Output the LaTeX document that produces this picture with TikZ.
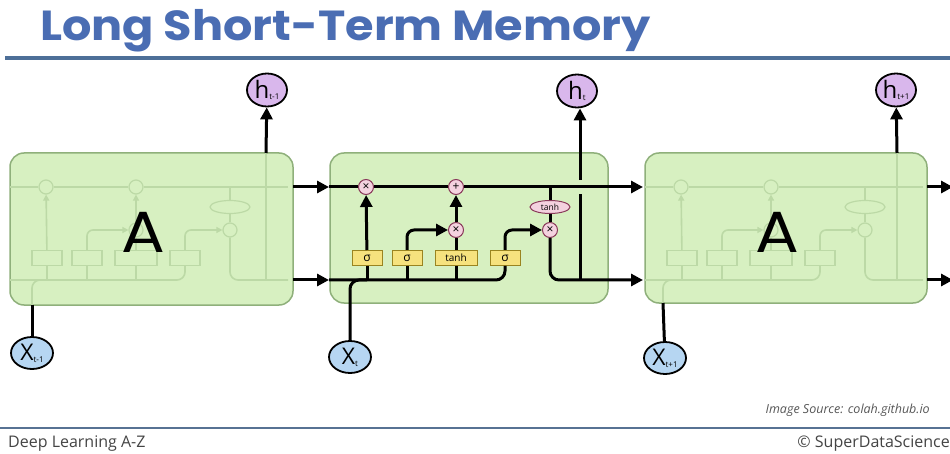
\documentclass[tikz,border=0pt]{standalone}
\usepackage{fontspec}
\setmainfont{Open Sans}
\newfontfamily\titlefont{Poppins}
\usetikzlibrary{arrows.meta,shapes.geometric,calc}
\definecolor{titleblue}{HTML}{4A6DB3}
\definecolor{rulebl}{HTML}{4D6F98}
\definecolor{cellfill}{HTML}{D7F0C1}
\definecolor{celldraw}{HTML}{8FB07B}
\definecolor{faintc}{HTML}{BCD9A6}
\definecolor{hfill}{HTML}{D9B7EC}
\definecolor{xfill}{HTML}{B6D6F2}
\definecolor{opfill}{HTML}{F4D2DF}
\definecolor{opdraw}{HTML}{8A3A5A}
\definecolor{gatefill}{HTML}{F6E27E}
\definecolor{gatedraw}{HTML}{9A8420}
\definecolor{foot}{HTML}{444444}
\tikzset{
  cellbox/.style={draw=celldraw, line width=1.5pt, fill=cellfill, rounded corners=14pt, inner sep=0pt},
  ln/.style={line width=3pt, black},
  arr/.style={line width=3pt, black, -{Triangle[length=12pt,width=12pt]}},
  hnode/.style={ellipse, draw=black, line width=1.8pt, fill=hfill, minimum width=40pt, minimum height=33pt, inner sep=0pt},
  xnode/.style={ellipse, draw=black, line width=1.8pt, fill=xfill, minimum width=42pt, minimum height=32pt, inner sep=0pt},
  opnode/.style={circle, draw=opdraw, line width=1pt, fill=opfill, minimum size=15pt, inner sep=0pt, font=\fontsize{12}{12}\selectfont},
  gatebox/.style={rectangle, draw=gatedraw, line width=1pt, fill=gatefill, minimum width=30pt, minimum height=15pt, inner sep=1pt, font=\fontsize{12}{12}\selectfont},
  tanhell/.style={ellipse, draw=opdraw, line width=1pt, fill=opfill, minimum width=40pt, minimum height=13pt, inner sep=0pt, font=\fontsize{8.5}{8.5}\selectfont},
  faintln/.style={line width=1.6pt, faintc},
  faintarr/.style={line width=1.6pt, faintc, -{Triangle[length=6pt,width=6pt]}},
  faintop/.style={circle, draw=faintc, line width=1.2pt, minimum size=14pt, inner sep=0pt},
  faintgate/.style={rectangle, draw=faintc, line width=1.2pt, minimum width=30pt, minimum height=15pt, inner sep=0pt},
  fainttanh/.style={ellipse, draw=faintc, line width=1.2pt, minimum width=40pt, minimum height=13pt, inner sep=0pt},
  biglabel/.style={font=\titlefont\fontsize{58}{58}\selectfont, text=black}
}
% faint copy of the cell internals, shifted by #1 (pt), names prefixed by #2
\newcommand{\faintcell}[2]{%
\begin{scope}[xshift=#1]
  \coordinate (#2cin) at (330,187);
  \coordinate (#2cout) at (608,187);
  \coordinate (#2bin) at (330,280);
  \coordinate (#2bout) at (608,280);
  \node[faintop] (#2fx) at (366,187) {};
  \node[faintop] (#2ad) at (456,187) {};
  \node[faintop] (#2ix) at (456,230) {};
  \node[faintop] (#2ox) at (550,230) {};
  \node[fainttanh] (#2th) at (550,207) {};
  \node[faintgate] (#2s1) at (367,258) {};
  \node[faintgate] (#2s2) at (407,258) {};
  \node[faintgate, minimum width=42pt] (#2t1) at (456,258) {};
  \node[faintgate] (#2s3) at (505,258) {};
  \draw[faintln] (#2cin) -- (#2fx) -- (#2ad) -- (#2cout);
  \draw[faintarr] (#2s1) -- (#2fx);
  \draw[faintarr, rounded corners=6pt] (#2s2.north) |- (#2ix);
  \draw[faintln] (#2t1) -- (#2ix);
  \draw[faintarr] (#2ix) -- (#2ad);
  \draw[faintarr, rounded corners=6pt] (#2s3.north) |- (#2ox);
  \draw[faintln] (#2ox) -- (#2th) -- (#2th |- #2cin);
  \draw[faintln, rounded corners=8pt] (#2ox) |- (#2bout);
  \draw[faintln, rounded corners=8pt] (#2bin) -| (#2s3.south);
  \draw[faintln] (#2s1.south) -- (#2s1.south |- #2bin);
  \draw[faintln] (#2s2.south) -- (#2s2.south |- #2bin);
  \draw[faintln] (#2t1.south) -- (#2t1.south |- #2bin);
\end{scope}}
\begin{document}
\begin{tikzpicture}[x=1pt,y=-1pt]
\useasboundingbox (0,0) rectangle (950,454);
\fill[white] (0,0) rectangle (950,454);

% header
\node[anchor=base west, inner sep=0pt, text=titleblue, font=\titlefont\bfseries\fontsize{42}{42}\selectfont] (title) at (40,41) {\scalebox{1.1}[1]{Long Short-Term Memory}};
\draw[rulebl, line width=3.5pt] (5,58) -- (950,58);

% cell boxes
\node[cellbox, minimum width=283pt, minimum height=152pt] (A1) at (151.5,229) {};
\node[cellbox, minimum width=278pt, minimum height=150pt] (A2) at (469,228) {};
\node[cellbox, minimum width=282pt, minimum height=150pt] (A3) at (786,228) {};

% faint internals of the left and right cells
\faintcell{-320}{L}
\faintcell{315}{R}
\draw[faintln] (266,153) -- (266,280);
\draw[faintln, rounded corners=8pt] (32,305) |- (60,280);
\draw[faintln] (10,280) -- (60,280);
\draw[faintln] (897,153) -- (897,280);
\draw[faintln, rounded corners=8pt] (663,303) |- (690,280);
\draw[faintln] (645,280) -- (690,280);

\node[biglabel] (Alab1) at (143,232) {\scalebox{1.12}[1]{A}};
\node[biglabel] (Alab3) at (777,232) {\scalebox{1.12}[1]{A}};

% h and x nodes
\node[hnode] (hm) at (267,90) {\fontsize{24}{24}\selectfont h\raisebox{-1pt}{\fontsize{8}{8}\selectfont t-1}};
\node[hnode] (ht) at (577,91) {\fontsize{24}{24}\selectfont h\raisebox{-1pt}{\fontsize{8}{8}\selectfont t}};
\node[hnode] (hp) at (896,90) {\fontsize{24}{24}\selectfont h\raisebox{-1pt}{\fontsize{8}{8}\selectfont t+1}};
\node[xnode] (xm) at (32,353) {\fontsize{23}{23}\selectfont X\raisebox{-2pt}{\fontsize{8}{8}\selectfont t-1}};
\node[xnode] (xt) at (350,357) {\fontsize{23}{23}\selectfont X\raisebox{-2pt}{\fontsize{8}{8}\selectfont t}};
\node[xnode] (xp) at (665,358) {\fontsize{23}{23}\selectfont X\raisebox{-2pt}{\fontsize{8}{8}\selectfont t+1}};

% left cell connectors
\coordinate (Ltop) at (266,153);
\coordinate (Lbot) at (32,305);
\draw[arr] (Ltop) -- (hm);
\draw[ln] (xm) -- (Lbot);
\coordinate (Lc) at (293,187);
\coordinate (Lh) at (293,280);

% middle cell
\coordinate (cin) at (329,187);
\coordinate (bin) at (329,280);
\coordinate (cout) at (643,187);
\coordinate (hout) at (643,280);
\draw[arr] (Lc) -- (cin);
\draw[arr] (Lh) -- (bin);

\node[opnode] (fx) at (366,187) {×};
\node[opnode] (ad) at (456,187) {+};
\node[opnode] (ix) at (456,230) {×};
\node[opnode] (ox) at (550,230) {×};
\node[tanhell] (th2) at (550,207) {tanh};
\node[gatebox] (s1) at (367,258) {σ};
\node[gatebox] (s2) at (407,258) {σ};
\node[gatebox, minimum width=42pt, font=\fontsize{10}{10}\selectfont] (t1) at (456,258) {tanh};
\node[gatebox] (s3) at (505,258) {σ};

\draw[ln] (cin) -- (fx);
\draw[ln] (fx) -- (ad);
\draw[arr] (ad) -- (cout);
\coordinate (tj) at (550,187);
\draw[ln] (tj) -- (th2);
\draw[ln] (th2) -- (ox);
\draw[arr] (s1) -- (fx);
\draw[arr, rounded corners=7pt] (s2.north) |- (ix);
\draw[ln] (t1) -- (ix);
\draw[arr] (ix) -- (ad);
\draw[arr, rounded corners=7pt] (s3.north) |- (ox);
\draw[arr, rounded corners=9pt] (ox) |- (hout);
\draw[ln, rounded corners=9pt] (bin) -| (s3.south);
\draw[ln] (s1.south) -- (s1.south |- bin);
\draw[ln] (s2.south) -- (s2.south |- bin);
\draw[ln] (t1.south) -- (t1.south |- bin);
\draw[ln, rounded corners=9pt] (xt) |- (s1.south |- bin);
\coordinate (hb) at (580,280);
\coordinate (hg1) at (580,194);
\coordinate (hg2) at (580,180);
\draw[ln] (hb) -- (hg1);
\draw[arr] (hg2) -- (ht.south -| hg2);

% right cell connectors
\coordinate (Rtop) at (897,153);
\coordinate (Rbot) at (663,303);
\draw[arr] (Rtop) -- (hp);
\draw[ln] (xp) -- (Rbot);
\coordinate (Rc) at (927,187);
\coordinate (Rh) at (927,280);
\coordinate (Rce) at (953,187);
\coordinate (Rhe) at (953,280);
\draw[arr] (Rc) -- (Rce);
\draw[arr] (Rh) -- (Rhe);

% footer
\node[anchor=base east, inner sep=0pt, text=foot!90, font=\itshape\fontsize{12.5}{12.5}\selectfont] (src) at (930,413) {Image Source: colah.github.io};
\draw[rulebl!80!gray, line width=2pt] (0,428) -- (950,428);
\node[anchor=base west, inner sep=0pt, text=foot, font=\fontsize{16}{16}\selectfont] (dl) at (8,447) {Deep Learning A-Z};
\node[anchor=base east, inner sep=0pt, text=foot, font=\fontsize{16}{16}\selectfont] (sds) at (950,447) {© SuperDataScience};
\end{tikzpicture}
\end{document}
